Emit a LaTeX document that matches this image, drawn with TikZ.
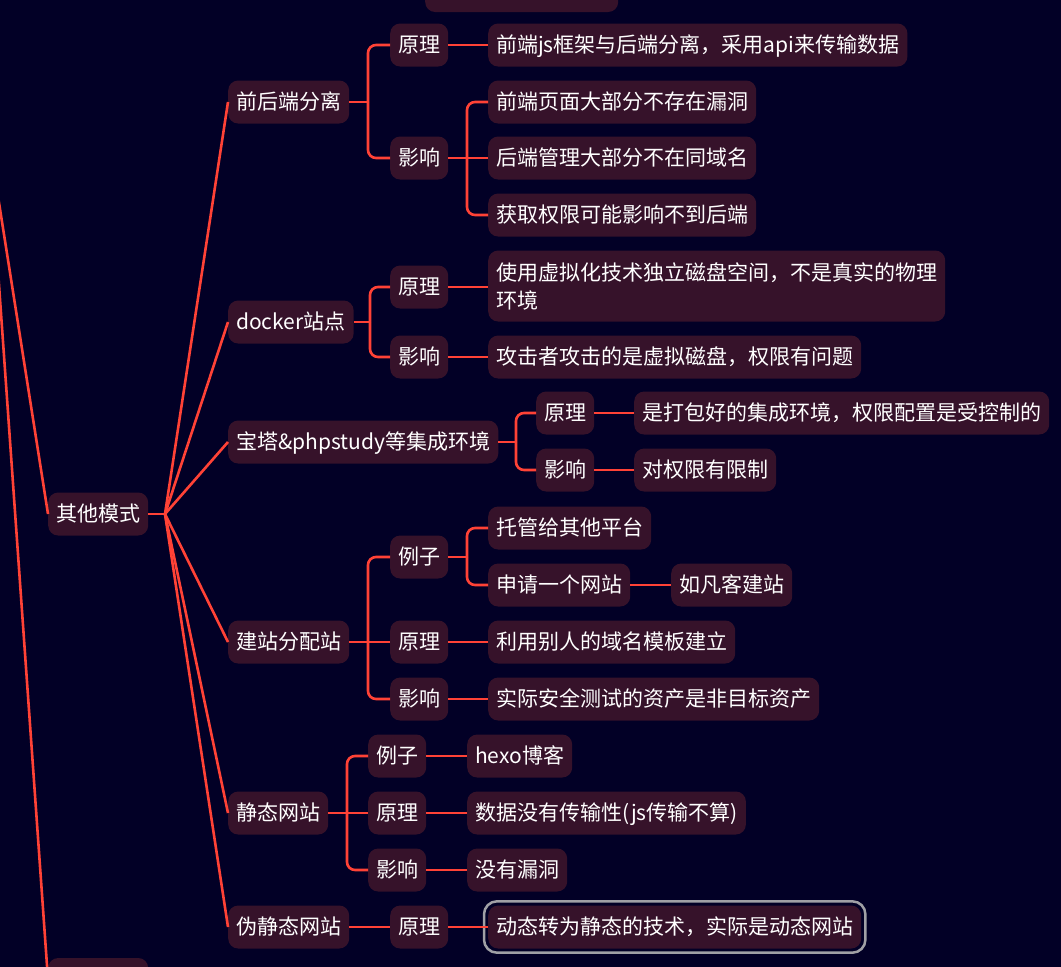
\documentclass[tikz,border=0pt]{standalone}
\usepackage{fontspec}
\setmainfont{Noto Sans CJK SC}
\definecolor{bg}{RGB}{2,0,38}
\definecolor{nodefill}{RGB}{54,18,42}
\definecolor{conn}{RGB}{255,66,54}
\definecolor{selgray}{RGB}{160,160,165}
\begin{document}
\begin{tikzpicture}[x=1pt,y=-1pt,
  box/.style={fill=nodefill, rounded corners=10pt, text=white, font=\fontsize{21}{28}\selectfont, inner xsep=8pt, inner ysep=0pt, minimum height=43pt, text height=18.4pt, text depth=2.6pt, anchor=west},
  boxtwo/.style={fill=nodefill, rounded corners=10pt, text=white, font=\fontsize{21}{28}\selectfont, inner xsep=8pt, inner ysep=4pt, minimum height=71pt, align=left, anchor=west},
  link/.style={draw=conn, line width=2.6pt},
  bendlink/.style={link, rounded corners=8pt},
  sel/.style={draw=selgray, line width=2.5pt, rounded corners=13pt}]
\fill[bg] (0,0) rectangle (1061,967);
\useasboundingbox (0,0) rectangle (1061,967);

% partial nodes at edges
\node[box, minimum width=193pt] (top) at (425,-9.5) {};
\node[box, minimum width=100pt] (bot) at (48,979.5) {};

% root of this branch
\node[box] (other) at (48,514) {其他模式};
\coordinate (hubL) at (-11.5,136);
\coordinate (hub) at (165,514);

% level 2
\node[box] (a) at (228,102) {前后端分离};
\node[box] (b) at (228,322) {docker站点};
\node[box] (c) at (228,442) {宝塔\&phpstudy等集成环境};
\node[box] (d) at (228,642) {建站分配站};
\node[box] (e) at (228,813) {静态网站};
\node[box] (f) at (228,927) {伪静态网站};

% a
\node[box] (a1) at (390,45) {原理};
\node[box] (a2) at (390,158) {影响};
\node[box] (a1l) at (488,45) {前端js框架与后端分离，采用api来传输数据};
\node[box] (a21) at (488,102) {前端页面大部分不存在漏洞};
\node[box] (a22) at (488,158) {后端管理大部分不在同域名};
\node[box] (a23) at (488,215) {获取权限可能影响不到后端};

% b
\node[box] (b1) at (390,287) {原理};
\node[box] (b2) at (390,357) {影响};
\node[boxtwo] (b1l) at (488,286) {使用虚拟化技术独立磁盘空间，不是真实的物理\\环境};
\node[box] (b2l) at (488,357) {攻击者攻击的是虚拟磁盘，权限有问题};

% c
\node[box] (c1) at (536,413) {原理};
\node[box] (c2) at (536,470) {影响};
\node[box] (c1l) at (634,413) {是打包好的集成环境，权限配置是受控制的};
\node[box] (c2l) at (634,470) {对权限有限制};

% d
\node[box] (d1) at (390,557) {例子};
\node[box] (d2) at (390,642) {原理};
\node[box] (d3) at (390,699) {影响};
\node[box] (d11) at (488,528) {托管给其他平台};
\node[box] (d12) at (488,585) {申请一个网站};
\node[box] (d121) at (671,585) {如凡客建站};
\node[box] (d2l) at (488,642) {利用别人的域名模板建立};
\node[box] (d3l) at (488,699) {实际安全测试的资产是非目标资产};

% e
\node[box] (e1) at (368,756) {例子};
\node[box] (e2) at (368,813) {原理};
\node[box] (e3) at (368,870) {影响};
\node[box] (e1l) at (467,756) {hexo博客};
\node[box] (e2l) at (467,813) {数据没有传输性(js传输不算)};
\node[box] (e3l) at (467,870) {没有漏洞};

% f
\node[box] (f1) at (390,927) {原理};
\node[box] (f1l) at (488,927) {动态转为静态的技术，实际是动态网站};
\draw[sel] ([shift={(-4,-4)}]f1l.north west) rectangle ([shift={(4,4)}]f1l.south east);

% connectors from off-screen hub
\draw[link] (hubL) -- (other.west);
\draw[link] (hubL) -- (bot.west);

% fan from 其他模式
\draw[link] (other.east) -- (hub);
\foreach \n in {a,b,c,d,e,f} \draw[link] (hub) -- (\n.west);

% a brackets
\draw[link] (a.east) -- (368,102) coordinate (aj);
\draw[bendlink] (aj) |- (a1.west);
\draw[bendlink] (aj) |- (a2.west);
\draw[link] (a1.east) -- (a1l.west);
\draw[link] (a2.east) -- (467,158) coordinate (a2j);
\draw[bendlink] (a2j) |- (a21.west);
\draw[link] (a2j) -- (a22.west);
\draw[bendlink] (a2j) |- (a23.west);

% b brackets
\draw[link] (b.east) -- (370,322) coordinate (bj);
\draw[bendlink] (bj) |- (b1.west);
\draw[bendlink] (bj) |- (b2.west);
\draw[link] (b1.east) -- (b1l.west |- b1.east);
\draw[link] (b2.east) -- (b2l.west);

% c brackets
\draw[link] (c.east) -- (516,442) coordinate (cj);
\draw[bendlink] (cj) |- (c1.west);
\draw[bendlink] (cj) |- (c2.west);
\draw[link] (c1.east) -- (c1l.west);
\draw[link] (c2.east) -- (c2l.west);

% d brackets
\draw[link] (d.east) -- (368,642) coordinate (dj);
\draw[bendlink] (dj) |- (d1.west);
\draw[link] (dj) -- (d2.west);
\draw[bendlink] (dj) |- (d3.west);
\draw[link] (d1.east) -- (467,557) coordinate (d1j);
\draw[bendlink] (d1j) |- (d11.west);
\draw[bendlink] (d1j) |- (d12.west);
\draw[link] (d12.east) -- (d121.west);
\draw[link] (d2.east) -- (d2l.west);
\draw[link] (d3.east) -- (d3l.west);

% e brackets
\draw[link] (e.east) -- (347,813) coordinate (ej);
\draw[bendlink] (ej) |- (e1.west);
\draw[link] (ej) -- (e2.west);
\draw[bendlink] (ej) |- (e3.west);
\draw[link] (e1.east) -- (e1l.west);
\draw[link] (e2.east) -- (e2l.west);
\draw[link] (e3.east) -- (e3l.west);

% f
\draw[link] (f.east) -- (f1.west);
\draw[link] (f1.east) -- (f1l.west);
\end{tikzpicture}
\end{document}
